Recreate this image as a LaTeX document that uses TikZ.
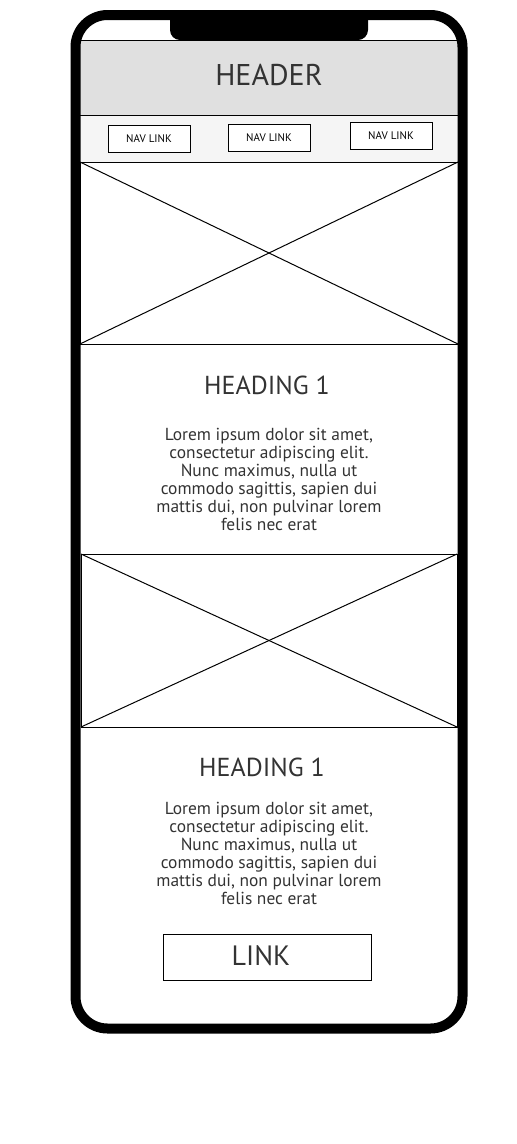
\documentclass[tikz,border=0pt]{standalone}
\usepackage{fontspec}
\setmainfont{PT Sans}
\usepackage{tikz}
\usetikzlibrary{positioning, calc}

\definecolor{headergray}{HTML}{E0E0E0}
\definecolor{navgray}{HTML}{F5F5F5}
\definecolor{textgray}{HTML}{333333}

\begin{document}
\begin{tikzpicture}[x=1pt, y=-1pt, line width=1pt,
    box/.style={draw, inner sep=0, outer sep=0},
    navlink/.style={box, fill=white, minimum width=82pt, minimum height=27pt, font=\fontsize{11}{13}\selectfont},
    heading/.style={text=textgray, font=\fontsize{26}{30}\selectfont},
    lorem/.style={align=center, text=textgray, font=\fontsize{17.4}{18}\selectfont}]
    \def\lorem{Lorem ipsum dolor sit amet,\\consectetur adipiscing elit.\\Nunc maximus, nulla ut\\commodo sagittis, sapien dui\\mattis dui, non pulvinar lorem\\felis nec erat}

    \useasboundingbox (0,0) rectangle (517,1144);

    % header and nav bar
    \node[box, fill=headergray, minimum width=380pt, minimum height=75pt, anchor=north west] (header) at (79,40) {};
    \node[heading, font=\fontsize{30}{34}\selectfont] (headertext) at ([yshift=2.5pt]header.center) {HEADER};
    \node[box, fill=navgray, minimum width=380pt, minimum height=47pt, anchor=north west] (navbar) at (79,115) {};
    \foreach \name/\x/\y in {navA/149/138.5, navB/269/137.5, navC/391/135.5}
    {
        \node[navlink] (\name) at (\x,\y) {NAV LINK};
    }

    % image placeholders
    \node[box, minimum width=378pt, minimum height=182pt, anchor=north west] (imgA) at (80,162) {};
    \node[box, minimum width=376pt, minimum height=173pt, anchor=north west] (imgB) at (81,554) {};
    \foreach \img in {imgA, imgB}
    {
        \draw (\img.north west) -- (\img.south east);
        \draw (\img.south west) -- (\img.north east);
    }

    % text blocks
    \node[heading] (headA) at (267,385) {HEADING 1};
    \node[lorem] (loremA) at (269,479) {\lorem};
    \node[heading] (headB) at (262,767) {HEADING 1};
    \node[lorem] (loremB) at (269,853) {\lorem};

    % link button
    \node[box, minimum width=208pt, minimum height=46pt] (link) at (267,957) {};
    \node[heading, font=\fontsize{28}{32}\selectfont] (linktext) at ([xshift=-6pt,yshift=1pt]link.center) {LINK};

    % phone frame and notch
    \draw[line width=10pt, rounded corners=32pt] (75.5,15) rectangle (462.5,1028.5);
    \fill[rounded corners=10pt] (170,10) -- (170,40) -- (368,40) -- (368,10) -- cycle;
\end{tikzpicture}
\end{document}
